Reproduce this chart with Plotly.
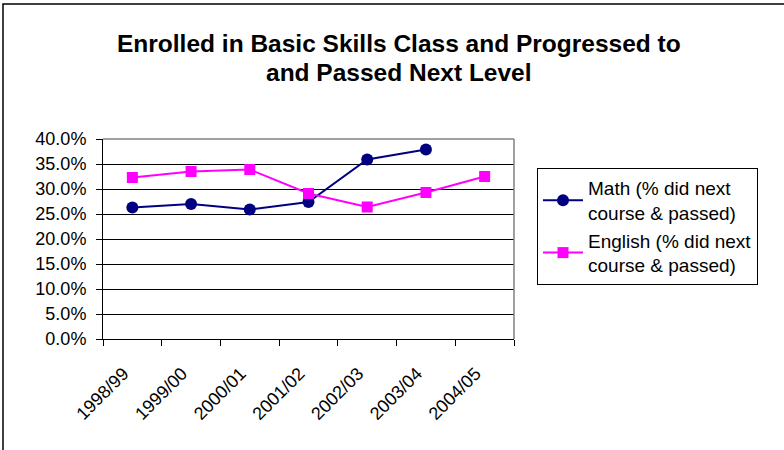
import plotly.graph_objects as go

years = ["1998/99", "1999/00", "2000/01", "2001/02", "2002/03", "2003/04", "2004/05"]
math_vals = [0.263, 0.270, 0.259, 0.274, 0.359, 0.379, None]
english_vals = [0.323, 0.335, 0.339, 0.291, 0.264, 0.293, 0.325]
y_ticks = [0.0, 0.05, 0.10, 0.15, 0.20, 0.25, 0.30, 0.35, 0.40]

FONT = "Liberation Sans, Arial, sans-serif"

fig = go.Figure()
fig.add_trace(go.Scatter(
    x=years, y=math_vals, mode="lines+markers",
    name="Math (% did next<br>course & passed)",
    line=dict(color="#000080", width=2),
    marker=dict(symbol="circle", size=12, color="#000080"),
))
fig.add_trace(go.Scatter(
    x=years, y=english_vals, mode="lines+markers",
    name="English (% did next<br>course & passed)",
    line=dict(color="#FF00FF", width=2),
    marker=dict(symbol="square", size=11, color="#FF00FF"),
))

fig.update_layout(
    width=784, height=450,
    margin=dict(l=103, r=270, t=139, b=111),
    paper_bgcolor="white", plot_bgcolor="white",
    font=dict(family=FONT, size=18, color="black"),
    showlegend=True,
    legend=dict(
        x=(537 - 103) / 411, y=(339 - 168) / 200, xanchor="left", yanchor="top",
        bordercolor="black", borderwidth=1, bgcolor="white",
        font=dict(family=FONT, size=19, color="black"),
        tracegroupgap=0, itemwidth=40,
    ),
    xaxis=dict(
        type="category", categoryorder="array", categoryarray=years,
        range=[-0.5, 6.5],
        tickson="boundaries", ticks="outside", ticklen=6, tickcolor="black",
        showline=True, linecolor="black", linewidth=1,
        showgrid=False, tickangle=-45, ticklabelstandoff=16, ticklabelshift=-9,
        tickfont=dict(family=FONT, size=18, color="black"),
    ),
    yaxis=dict(
        range=[0, 0.4], tickvals=y_ticks, tickformat=".1%",
        ticks="outside", ticklen=6, tickcolor="black",
        showline=True, linecolor="black", linewidth=1,
        showgrid=True, gridcolor="black", gridwidth=1,
        zeroline=False, ticklabelstandoff=6,
        tickfont=dict(family=FONT, size=18, color="black"),
    ),
    annotations=[
        dict(text="<b>Enrolled in Basic Skills Class and Progressed to</b>",
             xref="paper", yref="paper", x=(399 - 103) / 411, y=(339 - 43) / 200,
             xanchor="center", yanchor="middle", showarrow=False,
             font=dict(family=FONT, size=24.5, color="black")),
        dict(text="<b>and Passed Next Level</b>",
             xref="paper", yref="paper", x=(399 - 103) / 411, y=(339 - 73) / 200,
             xanchor="center", yanchor="middle", showarrow=False,
             font=dict(family=FONT, size=24.5, color="black")),
    ],
    shapes=[
        dict(type="line", xref="paper", yref="paper", x0=0, x1=1, y0=1, y1=1,
             line=dict(color="#808080", width=1.5), layer="above"),
        dict(type="line", xref="paper", yref="paper", x0=1, x1=1, y0=0, y1=1,
             line=dict(color="#808080", width=1.5), layer="above"),
        dict(type="rect", xref="paper", yref="paper",
             x0=(3 - 103) / 411, x1=(820 - 103) / 411,
             y0=(339 - 480) / 200, y1=(339 - 4) / 200,
             line=dict(color="black", width=1.5), layer="below"),
    ],
)

fig.write_html("out.html", config={"displayModeBar": False},
               post_script="document.body.style.margin='0px';document.body.style.overflow='hidden';")
